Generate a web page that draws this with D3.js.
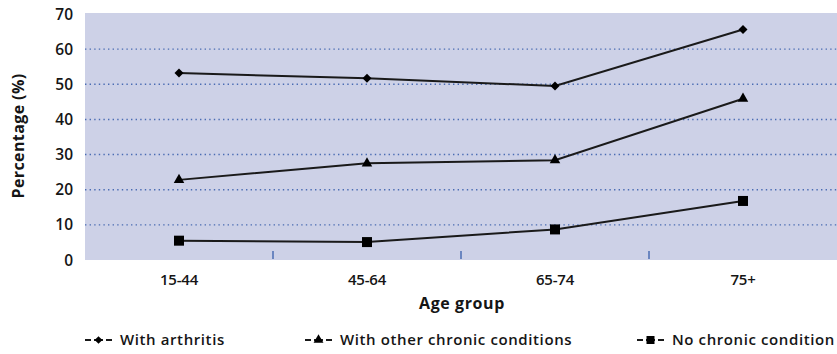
<!DOCTYPE html>
<html>
<head>
<meta charset="utf-8">
<title>Arthritis by age group</title>
<script src="https://cdn.jsdelivr.net/npm/d3@7"></script>
<style>
body { margin: 0; background: #fff; overflow: hidden; }
#chart text { font-family: "Open Sans", "DejaVu Sans", sans-serif; fill: #151515; }
</style>
</head>
<body>
<div id="chart"></div>
<script>
// data
var ageGroups = ["15-44", "45-64", "65-74", "75+"];
var withArthritis = [53.2, 51.7, 49.5, 65.6];
var withOther = [22.8, 27.5, 28.4, 45.9];
var noChronic = [5.5, 5.1, 8.7, 16.8];
var yTicks = [0, 10, 20, 30, 40, 50, 60, 70];
var seriesNames = ["With arthritis", "With other chronic conditions", "No chronic condition"];

var W = 837, H = 354;
// plot box (note: "top" is taken by window.top, so prefix these)
var plotL = 85, plotR = 837, plotT = 14, plotB = 260;

var svg = d3.select("#chart").append("svg")
  .attr("width", W).attr("height", H);

var x = d3.scaleBand().domain(ageGroups).range([plotL, plotR]);
var y = d3.scaleLinear().domain([0, 70]).range([plotB, plotT]);
var cx = function(d) { return x(d) + x.bandwidth() / 2; };

// plot background
svg.append("rect")
  .attr("x", plotL).attr("y", y(70) - 1)
  .attr("width", plotR - plotL).attr("height", plotB - y(70) + 1)
  .attr("fill", "#cdd1e7");

// dotted gridlines
svg.append("g").selectAll("line")
  .data(yTicks.filter(function(d) { return d > 0 && d < 70; }))
  .join("line")
  .attr("x1", plotL).attr("x2", plotR)
  .attr("y1", function(d) { return y(d); })
  .attr("y2", function(d) { return y(d); })
  .attr("stroke", "#4a6cb3")
  .attr("stroke-width", 1.4)
  .attr("stroke-dasharray", "1.4,3.2");

// y axis labels
svg.append("g").selectAll("text")
  .data(yTicks)
  .join("text")
  .attr("x", 73)
  .attr("y", function(d) { return y(d); })
  .attr("dy", "0.36em")
  .attr("text-anchor", "end")
  .style("font-size", "15.5px")
  .style("font-weight", 600)
  .text(function(d) { return d; });

// category separators (small ticks inside plot)
svg.append("g").selectAll("line")
  .data(ageGroups.slice(1))
  .join("line")
  .attr("x1", function(d) { return x(d); })
  .attr("x2", function(d) { return x(d); })
  .attr("y1", plotB - 9).attr("y2", plotB - 1)
  .attr("stroke", "#4a6cb3")
  .attr("stroke-width", 1.5);

// x labels
svg.append("g").selectAll("text")
  .data(ageGroups)
  .join("text")
  .attr("x", cx)
  .attr("y", 285)
  .attr("text-anchor", "middle")
  .style("font-size", "15px")
  .style("font-weight", 600)
  .style("letter-spacing", "-0.2px")
  .text(function(d) { return d; });

svg.append("text")
  .attr("x", 462).attr("y", 309)
  .attr("text-anchor", "middle")
  .style("font-size", "16px")
  .style("font-weight", 700)
  .style("letter-spacing", "0.6px")
  .text("Age group");

svg.append("text")
  .attr("transform", "translate(24,136) rotate(-90)")
  .attr("text-anchor", "middle")
  .style("font-size", "16px")
  .style("font-weight", 700)
  .style("letter-spacing", "0.4px")
  .text("Percentage (%)");

// lines (straight segments)
var line = d3.line()
  .x(function(d, i) { return cx(ageGroups[i]); })
  .y(function(d) { return y(d); });

var allSeries = [withArthritis, withOther, noChronic];
var shapes = [d3.symbolSquare, d3.symbolTriangle, d3.symbolSquare];
var sizes = [40, 48, 100];
var rot = [45, 0, 0];

allSeries.forEach(function(vals, k) {
  svg.append("path")
    .attr("d", line(vals))
    .attr("fill", "none")
    .attr("stroke", "#1a1a1a")
    .attr("stroke-width", 2);
  svg.append("g").selectAll("path")
    .data(vals)
    .join("path")
    .attr("transform", function(d, i) {
      return "translate(" + cx(ageGroups[i]) + "," + y(d) + ") rotate(" + rot[k] + ")";
    })
    .attr("d", d3.symbol().type(shapes[k]).size(sizes[k]))
    .attr("fill", "#000");
});

// legend
var legX = [85, 305, 637];
var leg = svg.append("g").selectAll("g")
  .data(seriesNames)
  .join("g")
  .attr("transform", function(d, i) { return "translate(" + legX[i] + ",340)"; });

leg.append("line")
  .attr("x1", 0).attr("x2", 27)
  .attr("stroke", "#1a1a1a").attr("stroke-width", 2);
leg.append("rect")
  .attr("x", 6).attr("width", 3).attr("y", -2).attr("height", 4)
  .attr("fill", "#fff");
leg.append("rect")
  .attr("x", 18).attr("width", 3).attr("y", -2).attr("height", 4)
  .attr("fill", "#fff");
leg.append("path")
  .attr("transform", function(d, i) { return "translate(13.5,0) rotate(" + rot[i] + ")"; })
  .attr("d", function(d, i) { return d3.symbol().type(shapes[i]).size([30, 42, 64][i])(); })
  .attr("fill", "#000");
leg.append("text")
  .attr("x", 35).attr("dy", "0.36em")
  .style("font-size", "15px")
  .style("font-weight", 600)
  .style("letter-spacing", "0.6px")
  .text(function(d) { return d; });
</script>
</body>
</html>
